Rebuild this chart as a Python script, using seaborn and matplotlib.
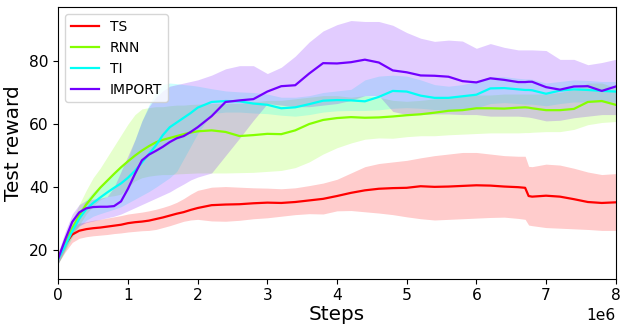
import numpy as np
import pandas as pd
import matplotlib
matplotlib.use("Agg")
import matplotlib.pyplot as plt
import seaborn as sns

steps = [0, .1, .2, .3, .4, .5, .6, .7, .8, .9, 1.0, 1.1, 1.2, 1.3, 1.4, 1.5, 1.6, 1.7, 1.8, 1.9,
         2.0, 2.2, 2.4, 2.6, 2.8, 3.0, 3.2, 3.4, 3.6, 3.8, 4.0, 4.2, 4.4, 4.6, 4.8, 5.0, 5.2, 5.4,
         5.6, 5.8, 6.0, 6.2, 6.4, 6.6, 6.7, 6.75, 6.8, 7.0, 7.2, 7.4, 7.6, 7.8, 8.0]

ts_mean = [17.8, 22, 25, 26.2, 26.7, 27, 27.2, 27.5, 27.8, 28.1, 28.6, 28.9, 29.1, 29.4, 29.9, 30.4,
           31.0, 31.6, 32.1, 32.8, 33.4, 34.3, 34.5, 34.6, 34.9, 35.1, 35.0, 35.3, 35.8, 36.3, 37.2,
           38.2, 39.0, 39.5, 39.7, 39.8, 40.3, 40.1, 40.2, 40.4, 40.6, 40.5, 40.2, 40.0, 39.8, 37.2,
           37.0, 37.3, 37.0, 36.2, 35.3, 35.0, 35.2]
ts_low = [16, 19.5, 22.5, 23.8, 24.3, 24.6, 24.8, 25.0, 25.3, 25.5, 25.8, 26, 26.2, 26.3, 26.6, 27.2,
          27.8, 28.5, 29.2, 29.6, 29.8, 29.3, 29.2, 29.5, 30, 30.3, 30.8, 31.3, 31.6, 31.5, 32.5,
          32.6, 32.2, 31.8, 31.3, 30.6, 30.0, 29.6, 29.8, 30.0, 30.2, 30.4, 30.5, 30.1, 29.8, 28.0,
          27.8, 27.2, 27.0, 26.8, 26.6, 26.3, 26.3]
ts_high = [19.5, 24.5, 27.5, 28.6, 29.0, 29.5, 29.8, 30.2, 30.6, 31, 31.5, 31.8, 32.1, 32.5, 33.0,
           33.6, 34.3, 35.2, 36.4, 37.8, 39.0, 40.0, 40.2, 40.0, 39.8, 39.7, 39.5, 39.8, 40.5, 41.3,
           42.5, 44.5, 46.5, 47.5, 48.0, 48.5, 49.3, 50.0, 50.5, 51.0, 51.0, 50.5, 50.0, 49.8, 49.8,
           46.6, 46.5, 47.3, 47.0, 46.0, 44.8, 44.0, 44.3]

rnn_mean = [17.5, 22, 27, 31, 34.5, 37.2, 39.8, 42, 44.2, 46.3, 48.2, 50.0, 51.6, 53.0, 54.2, 55.0,
            55.6, 56.2, 56.8, 57.3, 57.7, 58.0, 57.5, 56.2, 56.5, 56.9, 56.8, 58.0, 60.0, 61.3, 61.9,
            62.2, 62.0, 62.1, 62.4, 62.8, 63.1, 63.6, 64.2, 64.4, 65.0, 65.0, 64.9, 65.2, 65.3, 65.2,
            65.0, 64.4, 64.4, 64.8, 67.0, 67.3, 66.1]
rnn_low = [15.8, 20, 24.5, 28, 31.5, 34, 36, 37, 37.3, 37.8, 40, 42, 43, 43.5, 43.8, 44, 44, 44.2,
           44.3, 44.4, 44.5, 44.5, 44.5, 44.6, 44.7, 45.0, 45.3, 46.2, 48.0, 50.5, 52.5, 54.0, 55.2,
           55.6, 55.5, 56.0, 56.3, 56.3, 56.6, 56.8, 57.0, 57.2, 57.2, 57.2, 57.3, 57.3, 57.4, 57.6,
           57.6, 58.3, 59.8, 60.5, 60.8]
rnn_high = [19, 24, 29.5, 34.5, 39, 43, 46, 49.5, 53, 56.5, 60, 63, 64.8, 65.2, 65.5, 65.5, 65.8, 66,
            66, 66.2, 66.3, 66.5, 66.5, 66.5, 67, 67.5, 67.5, 68, 68.5, 69, 69, 68.5, 69, 68.5, 67.5,
            67.2, 67.5, 68, 68.5, 68.8, 69.2, 69.2, 69.5, 69.5, 69.5, 69.5, 69.5, 69.5, 70, 71, 73,
            73, 71.5]

ti_mean = [17.3, 21.5, 26, 30, 33, 35, 36.7, 38.3, 39.8, 41.2, 43, 45.2, 47.8, 50.5, 53.2, 56.5, 59,
           60.5, 62, 63.5, 65.2, 67.0, 67.3, 67.2, 66.5, 66.1, 65.0, 65.3, 66.3, 67.4, 67.6, 67.5,
           67.2, 68.6, 70.5, 70.3, 69.0, 68.3, 68.3, 68.8, 69.3, 71.3, 71.4, 71.0, 70.8, 70.8, 70.7,
           69.6, 70.6, 71.0, 70.8, 70.5, 70.3]
ti_low = [16, 20, 24, 27.5, 29.5, 30.8, 31.6, 32.3, 33, 33.8, 35, 36.2, 37.4, 38.6, 40, 41.5, 43, 45,
          49, 53, 57, 63.3, 63.8, 63.8, 63.5, 63.3, 62.8, 62.5, 63, 63.8, 64.2, 64.3, 64.3, 64.5, 65,
          65.2, 65, 64.6, 64.5, 64.8, 65.2, 66.5, 66.8, 66.5, 66.3, 66.3, 66.3, 65.8, 66.5, 67, 67,
          67, 67]
ti_high = [19, 23.5, 28.5, 32.5, 36, 38.5, 40.5, 42.5, 44.5, 46.5, 49, 55, 61, 66, 70, 72.5, 73, 72.8,
           72.5, 72.3, 72, 71.2, 70.5, 70.2, 70, 69.5, 68.5, 68.5, 69, 70, 70.5, 71, 74, 75.2, 75.5,
           75.2, 74, 72.5, 72, 72.5, 73.5, 75, 75, 74.5, 74.3, 74.3, 74.2, 73, 73.5, 74, 73.8, 73.5,
           73.5]

imp_mean = [17.5, 23.5, 29, 32, 33.3, 33.7, 33.8, 33.8, 34.0, 35.5, 39.5, 44.2, 48.5, 50.3, 51.5,
            52.8, 54.3, 55.5, 56.2, 57.5, 59, 62.5, 67.0, 67.5, 67.9, 70.3, 72.0, 72.3, 76.0, 79.3,
            79.2, 79.6, 80.4, 79.5, 77.0, 76.4, 75.4, 75.3, 75.0, 73.6, 73.2, 74.5, 74.0, 73.3, 73.3,
            73.4, 73.4, 71.7, 70.9, 71.9, 72.0, 70.5, 71.9]
imp_low = [15.8, 20.5, 25.5, 27.8, 28.8, 29.3, 29.8, 30.3, 30.8, 31.5, 32.5, 33.5, 34.5, 35.5, 36.5,
           37.5, 38.5, 39.8, 41, 42.3, 43.2, 44.5, 50, 55.5, 61.2, 66.5, 66, 65.5, 65.5, 66, 66.5,
           67.5, 69, 69, 64, 63, 63, 63.2, 63.2, 63, 63, 62.5, 62.5, 62.5, 62.3, 62.2, 62, 61, 61.2,
           62, 62.5, 63, 63]
imp_high = [19.5, 26, 31.5, 34.5, 35.8, 36.2, 36.5, 37, 40, 45, 50, 55, 61, 65.5, 68.5, 70.5, 72,
            72.5, 73, 73.5, 74, 75.5, 77.5, 78.5, 78.5, 76, 78, 81.5, 86, 89.5, 91.5, 92.8, 92.5,
            92.5, 91.3, 89, 87.2, 86.2, 86.6, 86.3, 84, 85.5, 84.3, 83.5, 83.5, 83.5, 83.5, 83.3,
            80.5, 80.5, 78.8, 79.5, 80.5]

names = ["TS", "RNN", "TI", "IMPORT"]
means = [ts_mean, rnn_mean, ti_mean, imp_mean]
lows = [ts_low, rnn_low, ti_low, imp_low]
highs = [ts_high, rnn_high, ti_high, imp_high]

cmap = plt.get_cmap("hsv")
colors = [cmap(v) for v in (0.0, 0.25, 0.5, 0.75)]

fig = plt.figure(figsize=(6.27, 3.31), dpi=100)
ax = fig.add_axes([0.093, 0.158, 0.889, 0.820])

x = np.array(steps) * 1e6
for name, m, lo, hi, c in zip(names, means, lows, highs, colors):
    df = pd.DataFrame({"Steps": x, "reward": m})
    sns.lineplot(data=df, x="Steps", y="reward", color=c, lw=1.6, label=name, ax=ax)
    ax.fill_between(x, lo, hi, color=c, alpha=0.2, lw=0)

ax.set_xlim(0, 8e6)
ax.set_ylim(11, 97)
ax.set_yticks([20, 40, 60, 80])
ax.set_xlabel("Steps", fontsize=14.4, labelpad=1)
ax.set_ylabel("Test reward", fontsize=14.4)
ax.tick_params(labelsize=11.2)
ax.xaxis.get_offset_text().set_fontsize(11.2)
ax.legend(loc="upper left", fontsize=10)

fig.savefig("out.png", dpi=100)
